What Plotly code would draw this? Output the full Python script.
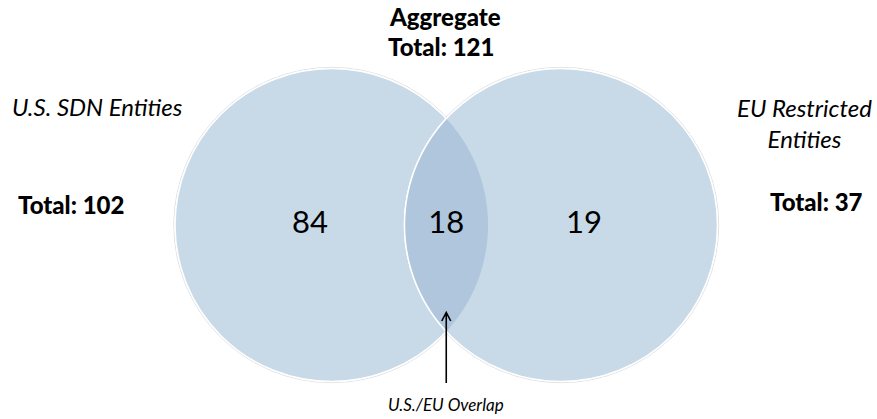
import numpy as np
import plotly.graph_objects as go

# ---- data ----
set_names = ["U.S. SDN Entities", "EU Restricted<br>Entities"]
set_totals = [102, 37]
aggregate_total = 121
region_names = ["U.S. only", "U.S./EU Overlap", "EU only"]
region_counts = [84, 18, 19]

# ---- layout constants (pixel space) ----
W, H = 877, 419
R = 156.5
CY = 225.0
CX_L, CX_R = 331.5, 561.0
LIGHT = "#c8dae8"
DARK = "#afc6dc"
FONT = "Lato"

fig = go.Figure()
shapes = []

for cx in (CX_L, CX_R):
    shapes.append(dict(type="circle", xref="x", yref="y",
                       x0=cx - R - 1.2, x1=cx + R + 1.2, y0=CY - R - 1.2, y1=CY + R + 1.2,
                       line=dict(color="rgba(0,0,0,0.12)", width=1), fillcolor="rgba(0,0,0,0)",
                       layer="below"))
for cx in (CX_L, CX_R):
    shapes.append(dict(type="circle", xref="x", yref="y",
                       x0=cx - R, x1=cx + R, y0=CY - R, y1=CY + R,
                       line=dict(color="white", width=1.5), fillcolor=LIGHT, layer="below"))

# lens (intersection) polygon
d = CX_R - CX_L
a = d / 2
h = np.sqrt(R**2 - a**2)
phi = np.arctan2(h, a)
t1 = np.linspace(-phi, phi, 80)
xs1 = CX_L + R * np.cos(t1); ys1 = CY + R * np.sin(t1)
t2 = np.linspace(np.pi - phi, np.pi + phi, 80)
xs2 = CX_R + R * np.cos(t2); ys2 = CY + R * np.sin(t2)
pts = list(zip(xs1, ys1)) + list(zip(xs2, ys2))
path = "M " + " L ".join(f"{x:.2f},{y:.2f}" for x, y in pts) + " Z"
shapes.append(dict(type="path", xref="x", yref="y", path=path, fillcolor=DARK,
                   line=dict(width=0), layer="below"))
arc = "M " + " L ".join(f"{x:.2f},{y:.2f}" for x, y in zip(xs2, ys2))
shapes.append(dict(type="path", xref="x", yref="y", path=arc,
                   line=dict(color="white", width=1.5), layer="below"))

# arrow
ax_x = (CX_L + CX_R) / 2
shapes.append(dict(type="path", xref="x", yref="y",
                   path=f"M {ax_x},383 L {ax_x},312.5 M {ax_x-4.5},321 L {ax_x},312.5 L {ax_x+4.5},321",
                   line=dict(color="black", width=1.6)))

# region numbers
fig.add_trace(go.Scatter(
    x=[310, ax_x, 584], y=[225, 225, 225], mode="text",
    text=[str(v) for v in region_counts],
    textfont=dict(family=FONT, size=31, color="black"),
    hoverinfo="skip", showlegend=False))

BOLD = dict(size=24, weight=900)
ITAL = dict(size=24, style="italic", weight=400)
annotations = [
    dict(x=445, y=16, text="Aggregate", font=dict(BOLD)),
    dict(x=441, y=46, text=f"Total: {aggregate_total}", font=dict(BOLD)),
    dict(x=97, y=106, text=set_names[0], font=dict(ITAL)),
    dict(x=804, y=123, text=set_names[1], font=dict(ITAL)),
    dict(x=71, y=204, text=f"Total: {set_totals[0]}", font=dict(BOLD)),
    dict(x=816, y=201, text=f"Total: {set_totals[1]}", font=dict(BOLD)),
    dict(x=ax_x, y=404, text=region_names[1], font=dict(size=17, style="italic", weight=400)),
]
for an in annotations:
    an.update(xref="x", yref="y", showarrow=False, xanchor="center", yanchor="middle")
    an["font"].update(family=FONT, color="black")

fig.update_layout(
    width=W, height=H, margin=dict(l=0, r=0, t=0, b=0),
    paper_bgcolor="white", plot_bgcolor="white",
    xaxis=dict(range=[0, W], visible=False, fixedrange=True),
    yaxis=dict(range=[H, 0], visible=False, fixedrange=True),
    shapes=shapes, annotations=annotations, showlegend=False,
)
fig.write_html("out.html", config={"displayModeBar": False},
               post_script="document.body.style.margin='0';")
